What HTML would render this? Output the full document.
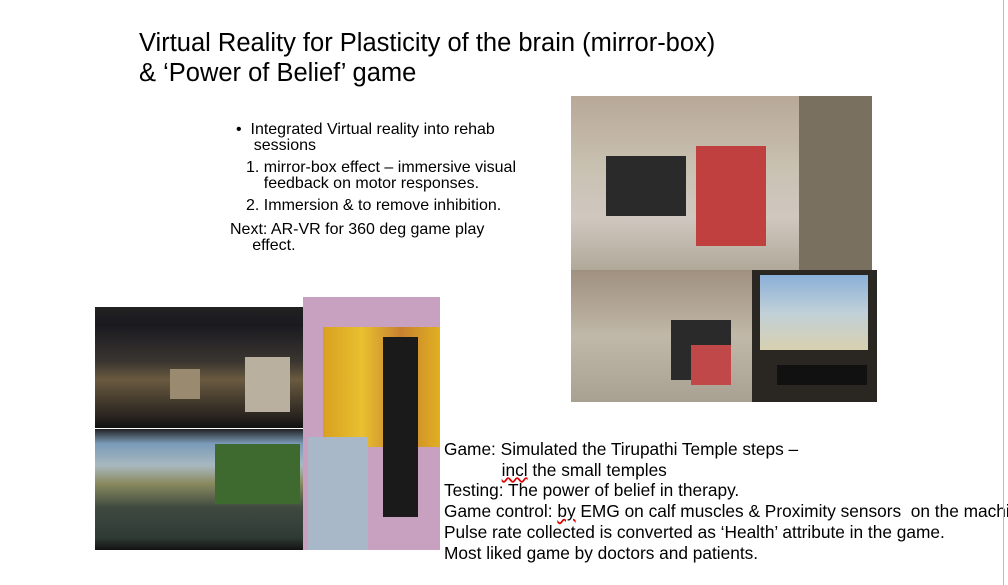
<!DOCTYPE html>
<html><head><meta charset="utf-8"><style>
body{margin:0;width:1008px;height:585px;background:#fff;position:relative;overflow:hidden;font-family:"Liberation Sans",sans-serif;color:#000}
.a{position:absolute}
.t{font-size:25.5px;line-height:30px;left:139px;top:28px;white-space:nowrap}
.b{font-size:16px;line-height:16px;white-space:nowrap}
.g{font-size:17.3px;line-height:20.7px;left:444px;top:439px;white-space:nowrap}
</style></head><body>
<div class="a t">Virtual Reality for Plasticity of the brain (mirror-box)<br>&amp; ‘Power of Belief’ game</div>
<div class="a b" style="left:236px;top:122px">•&nbsp; Integrated Virtual reality into rehab<br>&nbsp;&nbsp;&nbsp;&nbsp;sessions</div>
<div class="a b" style="left:246px;top:160px">1. mirror-box effect – immersive visual<br>&nbsp;&nbsp;&nbsp;&nbsp;feedback on motor responses.</div>
<div class="a b" style="left:246px;top:198px">2. Immersion &amp; to remove inhibition.</div>
<div class="a b" style="left:230px;top:222px">Next: AR-VR for 360 deg game play<br>&nbsp;&nbsp;&nbsp;&nbsp;&nbsp;effect.</div>

<div class="a" style="left:95px;top:307px;width:211px;height:121px;background:linear-gradient(180deg,#222 0,#1a1a20 15%,#3a3530 45%,#6a5a40 60%,#2a2520 90%,#111 100%)"><div class="a" style="left:150px;top:50px;width:45px;height:55px;background:#b9b0a0"></div><div class="a" style="left:75px;top:62px;width:30px;height:30px;background:#9a8a70"></div></div>
<div class="a" style="left:95px;top:429px;width:211px;height:121px;background:linear-gradient(180deg,#222 0,#7a9ab8 12%,#a8b8c0 30%,#8a8a60 45%,#3e4a40 65%,#2f3a35 90%,#111 100%)"><div class="a" style="left:120px;top:15px;width:85px;height:60px;background:#3e6a30"></div></div>
<div class="a" style="left:303px;top:297px;width:137px;height:253px;background:#c8a0c0"><div class="a" style="left:20px;top:30px;width:117px;height:120px;background:linear-gradient(90deg,#d9a020,#e8c030,#c88030,#e0b020)"></div><div class="a" style="left:80px;top:40px;width:35px;height:180px;background:#1a1a1a"></div><div class="a" style="left:5px;top:140px;width:60px;height:113px;background:#a8b8c8"></div></div>

<div class="a" style="left:571px;top:96px;width:301px;height:174px;background:linear-gradient(180deg,#b8a898 0,#c8c0b0 40%,#d0c8c0 70%,#b0a898 100%)"><div class="a" style="left:35px;top:60px;width:80px;height:60px;background:#2a2a2a"></div><div class="a" style="left:125px;top:50px;width:70px;height:100px;background:#c04040"></div><div class="a" style="left:228px;top:0;width:73px;height:174px;background:#7a7060"></div></div>
<div class="a" style="left:571px;top:270px;width:189px;height:132px;background:linear-gradient(180deg,#a09080,#c0b8a8 50%,#a8a090)"><div class="a" style="left:100px;top:50px;width:60px;height:60px;background:#2a2a2a"></div><div class="a" style="left:120px;top:75px;width:40px;height:40px;background:#c04848"></div></div>
<div class="a" style="left:752px;top:270px;width:125px;height:132px;background:#2a2622"><div class="a" style="left:8px;top:5px;width:108px;height:75px;background:linear-gradient(180deg,#8ab0d8,#c0d0d8 50%,#d8d0b0)"></div><div class="a" style="left:25px;top:95px;width:90px;height:20px;background:#111"></div></div>

<div class="a g">Game: Simulated the Tirupathi Temple steps –<br>&nbsp;&nbsp;&nbsp;&nbsp;&nbsp;&nbsp;&nbsp;&nbsp;&nbsp;&nbsp;&nbsp;&nbsp;<span style="text-decoration:underline wavy #d00">incl</span> the small temples<br>Testing: The power of belief in therapy.<br>Game control: <span style="text-decoration:underline wavy #d00">by</span> EMG on calf muscles &amp; Proximity sensors&nbsp; on the machine<br>Pulse rate collected is converted as ‘Health’ attribute in the game.<br>Most liked game by doctors and patients.</div>
<div class="a" style="left:1003px;top:0;width:1px;height:585px;background:#bbb"></div>
</body></html>
